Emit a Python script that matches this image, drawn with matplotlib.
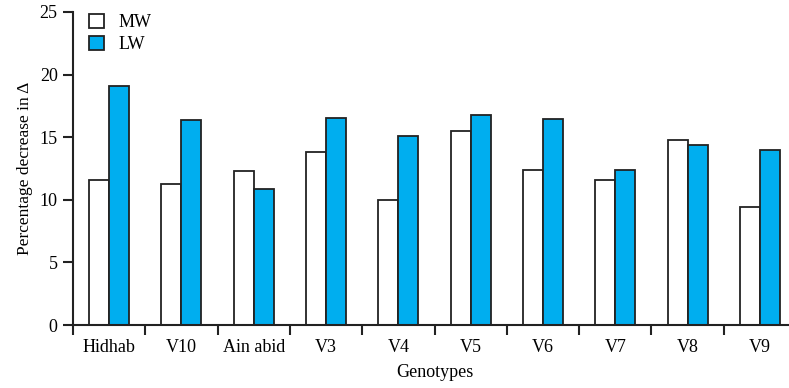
import matplotlib.pyplot as plt
import numpy as np

genotypes = ['Hidhab', 'V10', 'Ain abid', 'V3', 'V4', 'V5', 'V6', 'V7', 'V8', 'V9']
mw = [11.56, 11.29, 12.30, 13.82, 9.96, 15.50, 12.41, 11.58, 14.78, 9.40]
lw = [19.09, 16.35, 10.84, 16.56, 15.12, 16.77, 16.48, 12.36, 14.38, 13.95]

plt.rcParams['font.family'] = ['Liberation Serif', 'DejaVu Serif']

fig = plt.figure(figsize=(7.89, 3.88), dpi=100)
W, H = 789, 388
ax = fig.add_axes([73 / W, (H - 325) / H, 723 / W, 313 / H])

x = np.arange(len(genotypes))
w = 0.277
edge = '#222222'
ax.bar(x - w / 2, mw, w, color='white', edgecolor=edge, linewidth=1.3, label='MW')
ax.bar(x + w / 2, lw, w, color='#00AEEF', edgecolor=edge, linewidth=1.3, label='LW')

ax.set_xlim(-0.5, len(genotypes) - 0.5)
ax.set_ylim(0, 25)
ax.set_yticks([0, 5, 10, 15, 20, 25])
ax.set_xticks(np.arange(len(genotypes) + 1) - 0.5)
ax.set_xticklabels([])
ax.set_xticks(x, minor=True)
ax.set_xticklabels(genotypes, minor=True)
ax.tick_params(axis='x', which='minor', length=0, pad=10, labelsize=13)
ax.tick_params(axis='x', which='major', length=7, width=1.5, color=edge)
ax.tick_params(axis='y', length=7, width=1.5, color=edge, labelsize=13, pad=4)

for side in ['top', 'right']:
    ax.spines[side].set_visible(False)
for side in ['left', 'bottom']:
    ax.spines[side].set_linewidth(1.5)
    ax.spines[side].set_color(edge)

ax.set_ylabel('Percentage decrease in Δ', fontsize=12.5, labelpad=5)
ax.set_xlabel('Genotypes', fontsize=13, labelpad=6)

ax.legend(loc='upper left', bbox_to_anchor=(0.0, 1.045), frameon=False, fontsize=13,
          handlelength=0.8, handleheight=0.8, handletextpad=0.8, labelspacing=0.25)

fig.savefig('out.png', dpi=100)
